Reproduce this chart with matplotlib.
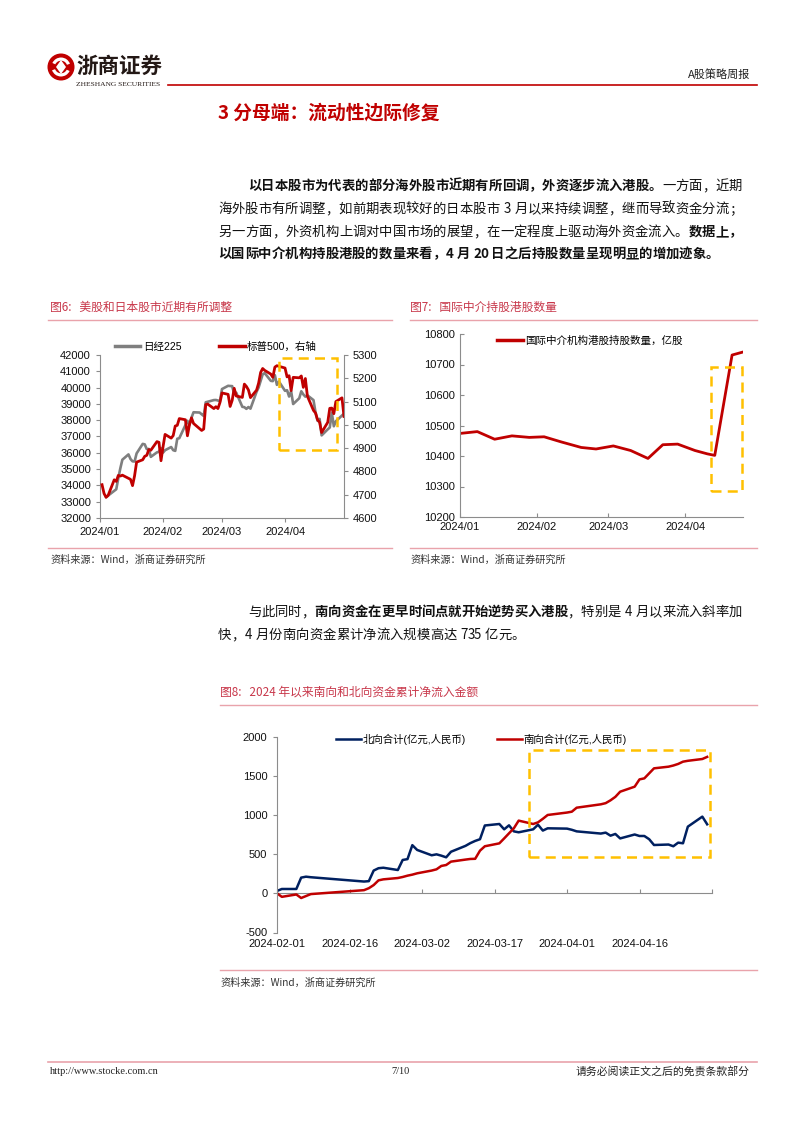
import matplotlib
matplotlib.use("Agg")
import matplotlib.pyplot as plt
import matplotlib.dates as mdates
from matplotlib.patches import Rectangle, Circle, Wedge, Polygon
from matplotlib.lines import Line2D
import pandas as pd

plt.rcParams['font.family'] = ['Liberation Sans', 'Noto Sans CJK SC', 'DejaVu Sans']
plt.rcParams['axes.unicode_minus'] = False

W, H = 802, 1133
RED = '#C00000'
NAVY = '#002060'
GREY = '#7F7F7F'
ORANGE = '#FFC000'
CAP_RED = '#C8374A'
PINK = '#E9A3AB'
AXIS = '#8C8C8C'
CJK = ['Noto Sans CJK SC', 'DejaVu Sans']

# ---- 图6 data: Nikkei 225 (left) and S&P 500 (right)
nk_dates = ['01-04', '01-05', '01-09', '01-10', '01-11', '01-12', '01-15', '01-16', '01-17', '01-18',
            '01-19', '01-22', '01-23', '01-24', '01-25', '01-26', '01-29', '01-30', '01-31', '02-01',
            '02-02', '02-05', '02-06', '02-07', '02-08', '02-09', '02-13', '02-14', '02-15', '02-16',
            '02-19', '02-20', '02-21', '02-22', '02-26', '02-27', '02-28', '02-29', '03-01', '03-04',
            '03-05', '03-06', '03-07', '03-08', '03-11', '03-12', '03-13', '03-14', '03-15', '03-18',
            '03-19', '03-21', '03-22', '03-25', '03-26', '03-27', '03-28', '03-29', '04-01', '04-02',
            '04-03', '04-04', '04-05', '04-08', '04-09', '04-10', '04-11', '04-12', '04-15', '04-16',
            '04-17', '04-18', '04-19', '04-22', '04-23', '04-24', '04-25', '04-26', '04-30']
nk_vals = [33288, 33377, 33763, 34441, 35049, 35577, 35901, 35619, 35477, 35466,
           35963, 36546, 36517, 36226, 36236, 35751, 36026, 36066, 36287, 36011,
           36158, 36354, 36160, 36119, 36863, 36897, 37963, 37703, 38157, 38487,
           38470, 38364, 38262, 39099, 39234, 39240, 39208, 39166, 39911, 40110,
           40098, 40091, 39599, 39689, 38821, 38797, 38696, 38807, 38708, 39740,
           40004, 40816, 40888, 40415, 40398, 40763, 40168, 40369, 39803, 39839,
           39451, 39773, 38992, 39347, 39774, 39582, 39443, 39524, 39233, 38472,
           37962, 38080, 37068, 37439, 37552, 38460, 37629, 37934, 38406]
sp_dates = ['01-02', '01-03', '01-04', '01-05', '01-08', '01-09', '01-10', '01-11', '01-12', '01-16',
            '01-17', '01-18', '01-19', '01-22', '01-23', '01-24', '01-25', '01-26', '01-29', '01-30',
            '01-31', '02-01', '02-02', '02-05', '02-06', '02-07', '02-08', '02-09', '02-12', '02-13',
            '02-14', '02-15', '02-16', '02-20', '02-21', '02-22', '02-23', '02-26', '02-27', '02-28',
            '02-29', '03-01', '03-04', '03-05', '03-06', '03-07', '03-08', '03-11', '03-12', '03-13',
            '03-14', '03-15', '03-18', '03-19', '03-20', '03-21', '03-22', '03-25', '03-26', '03-27',
            '03-28', '04-01', '04-02', '04-03', '04-04', '04-05', '04-08', '04-09', '04-10', '04-11',
            '04-12', '04-15', '04-16', '04-17', '04-18', '04-19', '04-22', '04-23', '04-24', '04-25',
            '04-26', '04-29', '04-30']
sp_vals = [4743, 4705, 4689, 4697, 4764, 4757, 4783, 4780, 4784, 4766,
           4739, 4781, 4840, 4850, 4865, 4869, 4894, 4891, 4928, 4925,
           4846, 4906, 4959, 4943, 4954, 4995, 4998, 5027, 5022, 4953,
           5001, 5030, 5006, 4976, 4982, 5087, 5089, 5070, 5078, 5070,
           5096, 5137, 5131, 5079, 5105, 5157, 5124, 5118, 5175, 5165,
           5150, 5117, 5149, 5179, 5225, 5242, 5234, 5218, 5204, 5248,
           5254, 5244, 5206, 5211, 5147, 5204, 5202, 5210, 5161, 5199,
           5123, 5062, 5051, 5022, 5011, 4967, 5011, 5071, 5072, 5048,
           5100, 5116, 5036]

# ---- 图7 data: international intermediaries' HK holdings (亿股)
hold_dates = ['01-01', '01-08', '01-15', '01-22', '01-29', '02-04', '02-11', '02-19', '02-25', '03-03',
              '03-10', '03-17', '03-23', '03-29', '04-05', '04-10', '04-13', '04-20', '04-24']
hold_vals = [10474, 10480, 10455, 10466, 10461, 10463, 10446, 10428, 10423, 10433,
             10418, 10392, 10437, 10439, 10418, 10407, 10402, 10731, 10740]

# ---- 图8 data: cumulative net flows since 2024 (亿元)
flow_dates = ['02-01', '02-02', '02-05', '02-06', '02-07', '02-08', '02-19', '02-20', '02-21', '02-22',
              '02-23', '02-26', '02-27', '02-28', '02-29', '03-01', '03-04', '03-05', '03-06', '03-07',
              '03-08', '03-11', '03-12', '03-13', '03-14', '03-15', '03-18', '03-19', '03-20', '03-21',
              '03-22', '03-25', '03-26', '03-27', '03-28', '04-01', '04-02', '04-03', '04-08', '04-09',
              '04-10', '04-11', '04-12', '04-15', '04-16', '04-17', '04-18', '04-19', '04-22', '04-23',
              '04-24', '04-25', '04-26', '04-29', '04-30']
north_vals = [30, 55, 55, 200, 212, 205, 150, 155, 290, 320,
              326, 297, 425, 436, 614, 553, 485, 497, 480, 459,
              530, 605, 640, 668, 690, 865, 884, 816, 867, 790,
              778, 816, 875, 800, 829, 825, 810, 790, 762, 774,
              735, 757, 700, 750, 731, 731, 690, 616, 622, 600,
              646, 638, 850, 978, 880]
south_vals = [0, -45, -15, -60, -35, -10, 40, 65, 105, 165,
              178, 195, 208, 225, 238, 255, 290, 306, 349, 361,
              404, 430, 438, 440, 544, 600, 637, 700, 765, 829,
              927, 884, 905, 950, 999, 1030, 1041, 1092, 1135, 1150,
              1186, 1230, 1296, 1360, 1453, 1466, 1530, 1594, 1615, 1630,
              1650, 1679, 1690, 1713, 1740]


def d(lst):
    return pd.to_datetime(['2024-' + s for s in lst])


fig = plt.figure(figsize=(W / 100, H / 100), dpi=100)
pg = fig.add_axes([0, 0, 1, 1])
pg.set_xlim(0, W)
pg.set_ylim(H, 0)
pg.axis('off')


def px_axes(x0, y0, x1, y1):
    return fig.add_axes([x0 / W, 1 - y1 / H, (x1 - x0) / W, (y1 - y0) / H])


def put_line(segs, x0, y, x1=None, size=9.6, pitch=13.4):
    # lay out one line of body text char by char (justified if x1 given)
    chars = [(c, b) for s, b in segs for c in s]
    units = [0.3 if c == ' ' else (0.5 if ord(c) < 128 else 1.0) for c, _ in chars]
    step = (x1 - x0) / sum(units) if x1 else pitch
    x = x0
    for (c, b), u in zip(chars, units):
        if c != ' ':
            pg.text(x, y, c, fontsize=size, fontweight='bold' if b else 'normal',
                    va='center', ha='left', family=CJK, color='#111111')
        x += u * step


# ---- header
pg.add_patch(Circle((61, 67), 13.5, fc=RED, ec='none'))
pg.add_patch(Wedge((61, 67), 9.5, 25, 160, width=3.2, fc='white', ec='none'))
pg.add_patch(Wedge((61, 67), 9.5, 205, 340, width=3.2, fc='white', ec='none'))
pg.add_patch(Polygon([(61, 60), (66, 67), (61, 74), (56, 67)], fc='white', ec='none'))
pg.text(76, 66, '浙商证券', fontsize=15.5, fontweight='bold', va='center', ha='left',
        family=CJK, color='#231815')
pg.text(76, 84.5, 'ZHESHANG SECURITIES', fontsize=5.4, va='center', ha='left',
        family=['Liberation Serif'], color='#231815')
pg.plot([168, 757], [84.5, 84.5], color=RED, lw=1.2)
pg.text(750, 74, 'A股策略周报', fontsize=8, va='center', ha='right', family=CJK, color='#222222')

pg.text(218, 113, '3 分母端：流动性边际修复', fontsize=13.5, fontweight='bold', va='center',
        ha='left', family=CJK, color=RED)

put_line([('以日本股市为代表的部分海外股市近期有所回调，外资逐步流入港股。', True),
          ('一方面，近期', False)], 248, 186, 742)
put_line([('海外股市有所调整，如前期表现较好的日本股市 3 月以来持续调整，继而导致资金分流；', False)],
         218, 209, 742)
put_line([('另一方面，外资机构上调对中国市场的展望，在一定程度上驱动海外资金流入。', False),
          ('数据上，', True)], 218, 232, 742)
put_line([('以国际中介机构持股港股的数量来看，4 月 20 日之后持股数量呈现明显的增加迹象。', True)],
         218, 254)

put_line([('与此同时，', False), ('南向资金在更早时间点就开始逆势买入港股', True),
          ('，特别是 4 月以来流入斜率加', False)], 248, 612, 742)
put_line([('快，4 月份南向资金累计净流入规模高达 735 亿元。', False)], 218, 635)

# captions, rules, sources
caps = [(50, 307, '图6:   美股和日本股市近期有所调整'),
        (410, 307, '图7:   国际中介持股港股数量'),
        (220, 692, '图8:   2024 年以来南向和北向资金累计净流入金额')]
for x, y, t in caps:
    pg.text(x, y, t, fontsize=8.5, color=CAP_RED, va='center', ha='left', family=CJK)
for x0, x1, y in [(48, 392, 320), (410, 757, 320), (48, 392, 548), (410, 757, 548),
                  (220, 757, 705), (220, 757, 970)]:
    pg.plot([x0, x1], [y, y], color=PINK, lw=1)
for x, y in [(50, 560), (410, 560), (220, 983)]:
    pg.text(x, y, '资料来源：Wind，浙商证券研究所', fontsize=7.3, color='#333333', va='center',
            ha='left', family=CJK)

# footer
pg.plot([48, 757], [1062, 1062], color=PINK, lw=1.2)
pg.text(50, 1071, 'http://www.stocke.com.cn', fontsize=7.5, va='center', ha='left',
        family=['Liberation Serif'], color='#222222')
pg.text(400, 1071, '7/10', fontsize=7.5, va='center', ha='center',
        family=['Liberation Serif'], color='#222222')
pg.text(750, 1071, '请务必阅读正文之后的免责条款部分', fontsize=7.8, va='center', ha='right',
        family=CJK, color='#222222')


def style(ax, direction):
    for s in ax.spines.values():
        s.set_color(AXIS)
        s.set_linewidth(0.8)
    ax.tick_params(direction=direction, length=3, width=0.8, color=AXIS, labelsize=8,
                   labelcolor='#111111')


# ---- chart 1
ax1 = px_axes(100, 355, 344, 518)
ax1.plot(d(nk_dates), nk_vals, color=GREY, lw=1.9)
ax1.set_ylim(32000, 42000)
ax1.set_yticks(range(32000, 42001, 1000))
ax1.set_xlim(pd.Timestamp('2024-01-01'), pd.Timestamp('2024-04-30'))
ax1.set_xticks(pd.to_datetime(['2024-01-01', '2024-02-01', '2024-03-01', '2024-04-01']))
ax1.xaxis.set_major_formatter(mdates.DateFormatter('%Y/%m'))
style(ax1, 'out')
ax1.spines['top'].set_visible(False)
ax1.spines['right'].set_visible(False)
ax1r = ax1.twinx()
ax1r.plot(d(sp_dates), sp_vals, color=RED, lw=2)
ax1r.set_ylim(4600, 5300)
ax1r.set_yticks(range(4600, 5301, 100))
style(ax1r, 'out')
for s in ['top', 'left', 'bottom']:
    ax1r.spines[s].set_visible(False)
x0 = mdates.date2num(pd.Timestamp('2024-03-29'))
x1 = mdates.date2num(pd.Timestamp('2024-04-26 18:00'))
ax1r.add_patch(Rectangle((x0, 36150), x1 - x0, 41830 - 36150, transform=ax1.transData,
                         fill=False, ec=ORANGE, lw=1.8, ls=(0, (4, 2.5)), zorder=5))
ax1.legend([Line2D([], [], color=GREY, lw=2.5), Line2D([], [], color=RED, lw=2.5)],
           ['日经225', '标普500，右轴'], loc='center', bbox_to_anchor=(0.475, 1.05), ncol=2,
           frameon=False, fontsize=7.6, handlelength=2.4, columnspacing=3.6, handletextpad=0.25)

# ---- chart 2
ax2 = px_axes(460, 334, 743, 517)
ax2.plot(d(hold_dates), hold_vals, color=RED, lw=2)
ax2.set_ylim(10200, 10800)
ax2.set_yticks(range(10200, 10801, 100))
ax2.set_xlim(pd.Timestamp('2024-01-01'), pd.Timestamp('2024-04-24 10:00'))
ax2.set_xticks(pd.to_datetime(['2024-01-01', '2024-02-01', '2024-03-01', '2024-04-01']))
ax2.xaxis.set_major_formatter(mdates.DateFormatter('%Y/%m'))
style(ax2, 'in')
ax2.spines['top'].set_visible(False)
ax2.spines['right'].set_visible(False)
x0 = mdates.date2num(pd.Timestamp('2024-04-11 10:00'))
x1 = mdates.date2num(pd.Timestamp('2024-04-24 05:00'))
ax2.add_patch(Rectangle((x0, 10286), x1 - x0, 10691 - 10286, fill=False, ec=ORANGE,
                        lw=1.8, ls=(0, (4, 2.5)), zorder=5, clip_on=False))
ax2.legend([Line2D([], [], color=RED, lw=2.5)], ['国际中介机构港股持股数量，亿股'], loc='center',
           bbox_to_anchor=(0.46, 0.962), frameon=False, fontsize=7.6, handlelength=2.4,
           handletextpad=0.25)

# ---- chart 3
ax3 = px_axes(277, 736.5, 712, 932.5)
fd = d(flow_dates)
ax3.plot(fd, north_vals, color=NAVY, lw=1.8, label='北向合计(亿元,人民币)')
ax3.plot(fd, south_vals, color=RED, lw=1.8, label='南向合计(亿元,人民币)')
ax3.set_ylim(-500, 2000)
ax3.set_yticks(range(-500, 2001, 500))
start = pd.Timestamp('2024-02-01')
ax3.set_xlim(start, pd.Timestamp('2024-05-01'))
ax3.set_xticks([start + pd.Timedelta(days=15 * k) for k in range(6)])
ax3.xaxis.set_major_formatter(mdates.DateFormatter('%Y-%m-%d'))
style(ax3, 'out')
ax3.tick_params(axis='x', length=0, pad=5)
ax3.tick_params(axis='y', pad=4)
for s in ['top', 'right', 'bottom']:
    ax3.spines[s].set_visible(False)
zero = ax3.secondary_xaxis(0.2)
zero.set_xticks([start + pd.Timedelta(days=15 * k) for k in range(7)])
zero.tick_params(direction='in', length=3, width=0.8, color=AXIS, labelbottom=False)
zero.spines['bottom'].set_color(AXIS)
zero.spines['bottom'].set_linewidth(0.8)
x0 = mdates.date2num(pd.Timestamp('2024-03-24 05:00'))
x1 = mdates.date2num(pd.Timestamp('2024-04-30 12:00'))
ax3.add_patch(Rectangle((x0, 467), x1 - x0, 1828 - 467, fill=False, ec=ORANGE,
                        lw=1.8, ls=(0, (4, 2.5)), zorder=5, clip_on=False))
ax3.legend(loc='center', bbox_to_anchor=(0.47, 0.987), ncol=2, frameon=False, fontsize=7.5,
           handlelength=2.4, columnspacing=2.9, handletextpad=0.2)

fig.savefig('out.png', dpi=100)
